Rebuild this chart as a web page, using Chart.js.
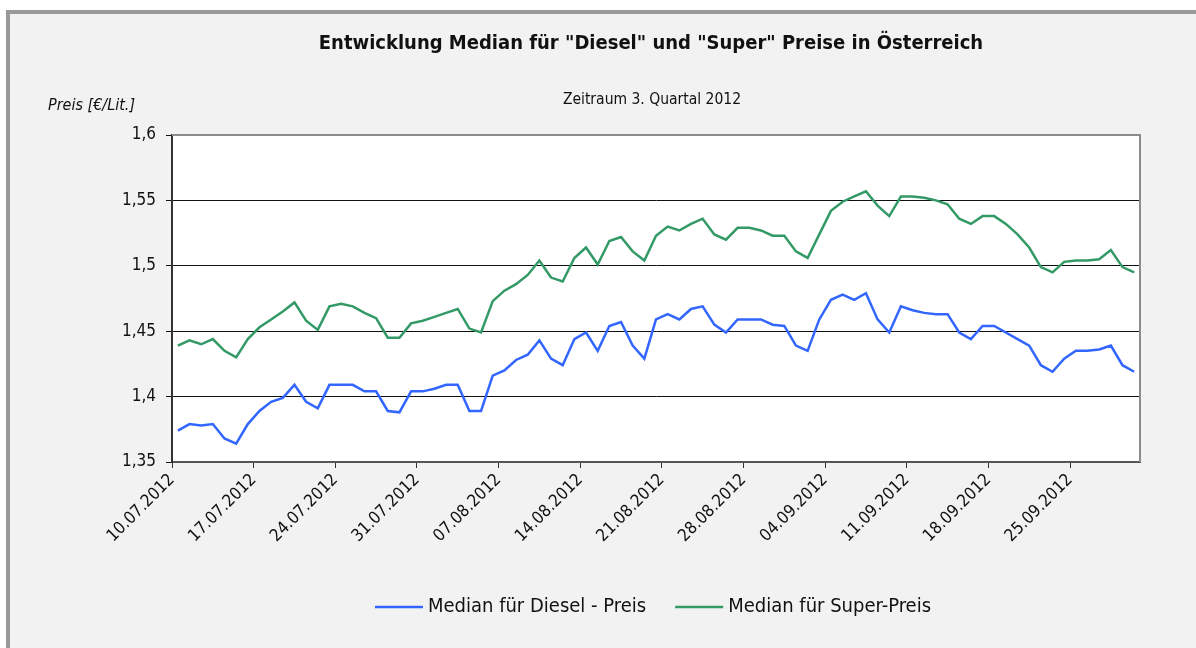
<!DOCTYPE html>
<html>
<head>
<meta charset="utf-8">
<script src="https://cdn.jsdelivr.net/npm/chart.js@4"></script>
<style>
  html, body { margin: 0; padding: 0; background: #fff; overflow: hidden; }
  #frame {
    position: absolute; left: 6px; top: 10px; width: 1200px; height: 650px;
    background: #f2f2f2; border-left: 4px solid #999; border-top: 4px solid #999;
  }
  #chart { position: absolute; left: 0; top: 0; }
</style>
</head>
<body>
<div id="frame"></div>
<canvas id="chart" width="1196" height="648"></canvas>
<script>
// Daily medians, 10.07.2012 - 30.09.2012
const diesel = [
  1.374, 1.379, 1.378, 1.379, 1.368, 1.364, 1.379, 1.389, 1.396, 1.399,
  1.409, 1.396, 1.391, 1.409, 1.409, 1.409, 1.404, 1.404, 1.389, 1.388,
  1.404, 1.404, 1.406, 1.409, 1.409, 1.389, 1.389, 1.416, 1.420, 1.428,
  1.432, 1.443, 1.429, 1.424, 1.444, 1.449, 1.435, 1.454, 1.457, 1.439,
  1.429, 1.459, 1.463, 1.459, 1.467, 1.469, 1.455, 1.449, 1.459, 1.459,
  1.459, 1.455, 1.454, 1.439, 1.435, 1.459, 1.474, 1.478, 1.474, 1.479,
  1.459, 1.449, 1.469, 1.466, 1.464, 1.463, 1.463, 1.449, 1.444, 1.454,
  1.454, 1.449, 1.444, 1.439, 1.424, 1.419, 1.429, 1.435, 1.435, 1.436,
  1.439, 1.424, 1.419,
];
const superPreis = [
  1.439, 1.443, 1.440, 1.444, 1.435, 1.430, 1.444, 1.453, 1.459, 1.465,
  1.472, 1.458, 1.451, 1.469, 1.471, 1.469, 1.464, 1.460, 1.445, 1.445,
  1.456, 1.458, 1.461, 1.464, 1.467, 1.452, 1.449, 1.473, 1.481, 1.486,
  1.493, 1.504, 1.491, 1.488, 1.506, 1.514, 1.501, 1.519, 1.522, 1.511,
  1.504, 1.523, 1.530, 1.527, 1.532, 1.536, 1.524, 1.520, 1.529, 1.529,
  1.527, 1.523, 1.523, 1.511, 1.506, 1.524, 1.542, 1.549, 1.553, 1.557,
  1.546, 1.538, 1.553, 1.553, 1.552, 1.550, 1.547, 1.536, 1.532, 1.538,
  1.538, 1.532, 1.524, 1.514, 1.499, 1.495, 1.503, 1.504, 1.504, 1.505,
  1.512, 1.499, 1.495,
];
const xTickLabels = [
  "10.07.2012", "17.07.2012", "24.07.2012", "31.07.2012", "07.08.2012", "14.08.2012",
  "21.08.2012", "28.08.2012", "04.09.2012", "11.09.2012", "18.09.2012", "25.09.2012",
];
const yTickLabels = ["1,35", "1,4", "1,45", "1,5", "1,55", "1,6"];

// one category per day, the point sits in the middle of its day
const days = [];
for (let d = new Date(2012, 6, 10); d <= new Date(2012, 8, 30); d.setDate(d.getDate() + 1)) {
  days.push(d.toLocaleDateString("de-AT", { day: "2-digit", month: "2-digit", year: "numeric" }));
}
const toPoints = (arr) => arr.map((v, i) => ({ x: i + 0.5, y: v }));

const FONT = "'Liberation Sans Narrow', 'Arial Narrow', 'DejaVu Sans Condensed', sans-serif";
Chart.defaults.font.family = FONT;
Chart.defaults.color = "#111";

const decor = {
  id: "decor",
  beforeDraw(chart) {
    const { ctx, chartArea: a } = chart;
    ctx.save();
    ctx.fillStyle = "#fff";
    ctx.fillRect(a.left, a.top, a.right - a.left, a.bottom - a.top);
    ctx.restore();
  },
  afterDraw(chart) {
    const { ctx, chartArea: a } = chart;
    ctx.save();
    // top and right frame of the plot
    ctx.strokeStyle = "#8c8c8c";
    ctx.lineWidth = 2;
    ctx.beginPath();
    ctx.moveTo(a.left, a.top);
    ctx.lineTo(a.right, a.top);
    ctx.lineTo(a.right, a.bottom);
    ctx.stroke();

    ctx.fillStyle = "#111";
    ctx.textBaseline = "middle";
    ctx.textAlign = "center";
    ctx.font = "bold 20px " + FONT;
    ctx.fillText('Entwicklung Median für "Diesel" und "Super" Preise in Österreich', 651, 44);
    ctx.font = "15.5px " + FONT;
    ctx.fillText("Zeitraum 3. Quartal 2012", 652, 100);
    ctx.textAlign = "left";
    ctx.font = "italic 16px " + FONT;
    ctx.fillText("Preis [€/Lit.]", 48, 106);

    // legend
    ctx.font = "20px " + FONT;
    const sets = chart.data.datasets;
    const lineLen = 48, gap = 5, between = 29;
    const widths = sets.map((s) => lineLen + gap + ctx.measureText(s.label).width);
    let x = 653 - (widths.reduce((p, c) => p + c, 0) + between * (sets.length - 1)) / 2;
    const y = 607;
    sets.forEach((s, i) => {
      ctx.strokeStyle = s.borderColor;
      ctx.lineWidth = 2.5;
      ctx.beginPath();
      ctx.moveTo(x, y);
      ctx.lineTo(x + lineLen, y);
      ctx.stroke();
      ctx.fillText(s.label, x + lineLen + gap, y);
      x += widths[i] + between;
    });
    ctx.restore();
  },
};

new Chart(document.getElementById("chart"), {
  type: "line",
  data: {
    datasets: [
      {
        label: "Median für Diesel - Preis",
        data: toPoints(diesel),
        borderColor: "#3366ff",
        borderWidth: 2.5,
        pointRadius: 0,
        tension: 0,
      },
      {
        label: "Median für Super-Preis",
        data: toPoints(superPreis),
        borderColor: "#339966",
        borderWidth: 2.5,
        pointRadius: 0,
        tension: 0,
      },
    ],
  },
  options: {
    responsive: false,
    animation: false,
    layout: { padding: { top: 135, right: 56, bottom: 0, left: 0 } },
    plugins: {
      legend: { display: false },
      title: { display: false },
      tooltip: { callbacks: { title: (items) => days[Math.floor(items[0].parsed.x)] } },
    },
    scales: {
      x: {
        type: "linear",
        min: 0,
        max: days.length,
        afterFit: (s) => { s.height = 186; },
        grid: { drawOnChartArea: false, drawTicks: true, tickLength: 6, color: "#333" },
        border: { color: "#555", width: 2 },
        ticks: {
          stepSize: 7,
          includeBounds: false,
          autoSkip: false,
          minRotation: 45,
          maxRotation: 45,
          padding: 2,
          font: { size: 17 },
          callback: (v, i) => xTickLabels[i],
        },
      },
      y: {
        min: 1.35,
        max: 1.6,
        afterFit: (s) => { s.width = 172; },
        grid: { color: "#111", lineWidth: 1, tickLength: 6 },
        border: { color: "#333", width: 2 },
        ticks: {
          stepSize: 0.05,
          padding: 10,
          font: { size: 17 },
          callback: (v, i) => yTickLabels[i],
        },
      },
    },
  },
  plugins: [decor],
});
</script>
</body>
</html>
